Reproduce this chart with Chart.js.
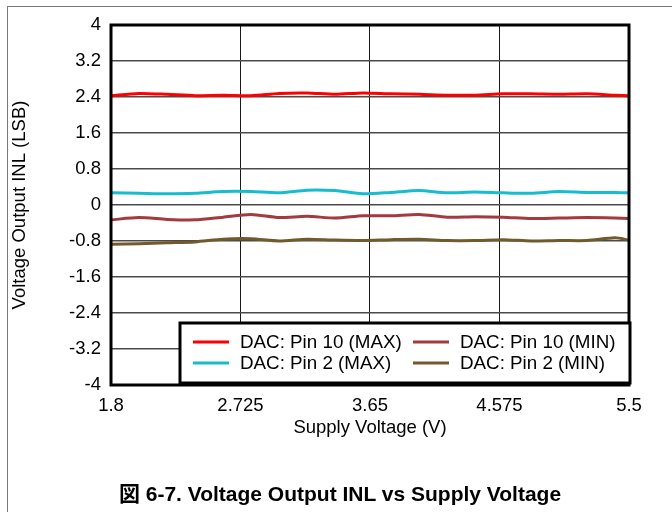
<!DOCTYPE html>
<html>
<head>
<meta charset="utf-8">
<script src="https://cdn.jsdelivr.net/npm/chart.js@4.4.0/dist/chart.umd.min.js"></script>
<style>
  html, body { margin: 0; padding: 0; background: #fff; }
  #wrap { position: relative; width: 672px; height: 512px; overflow: hidden; }
  #frameH { position: absolute; left: 8px; top: 6px; width: 664px; height: 0; border-top: 1.5px solid #7a7a7a; }
  #frameV { position: absolute; left: 7px; top: 6px; width: 0; height: 506px; border-left: 1.5px solid #7a7a7a; }
  #cv { position: absolute; left: 0; top: 0; }
  #caption { position: absolute; left: 8px; width: 664px; top: 482px; line-height: 24px; text-align: center;
    font-weight: bold; font-size: 21px; font-family: "Liberation Sans", Arial, "Noto Sans CJK JP", sans-serif; color: #000; }
</style>
</head>
<body>
<div id="wrap">
  <div id="frameH"></div>
  <div id="frameV"></div>
  <canvas id="cv" width="672" height="512"></canvas>
  <div id="caption">図 6-7. Voltage Output INL vs Supply Voltage</div>
</div>
<script>
const voltages = [1.8, 2.0, 2.2, 2.4, 2.6, 2.8, 3.0, 3.2, 3.4, 3.6, 3.8, 4.0, 4.2, 4.4, 4.6, 4.8, 5.0, 5.2, 5.4, 5.5];
const pin10Max = [2.43, 2.48, 2.46, 2.43, 2.44, 2.43, 2.48, 2.49, 2.46, 2.49, 2.47, 2.46, 2.44, 2.44, 2.47, 2.47, 2.46, 2.47, 2.44, 2.43];
const pin2Max  = [0.27, 0.26, 0.25, 0.26, 0.30, 0.30, 0.27, 0.33, 0.32, 0.25, 0.28, 0.32, 0.27, 0.29, 0.27, 0.26, 0.30, 0.28, 0.28, 0.27];
const pin10Min = [-0.33, -0.28, -0.32, -0.33, -0.27, -0.21, -0.28, -0.25, -0.29, -0.24, -0.24, -0.21, -0.27, -0.26, -0.27, -0.30, -0.29, -0.28, -0.29, -0.30];
const pin2Min  = [-0.87, -0.86, -0.84, -0.82, -0.76, -0.75, -0.80, -0.76, -0.78, -0.79, -0.77, -0.76, -0.79, -0.79, -0.77, -0.80, -0.79, -0.79, -0.73, -0.78];
const seriesLabels = ['DAC: Pin 10 (MAX)', 'DAC: Pin 10 (MIN)', 'DAC: Pin 2 (MAX)', 'DAC: Pin 2 (MIN)'];
const yTicks = [-4, -3.2, -2.4, -1.6, -0.8, 0, 0.8, 1.6, 2.4, 3.2, 4];
const yTickLabels = ['-4', '-3.2', '-2.4', '-1.6', '-0.8', '0', '0.8', '1.6', '2.4', '3.2', '4'];
const xTicks = [1.8, 2.725, 3.65, 4.575, 5.5];
const xTickLabels = ['1.8', '2.725', '3.65', '4.575', '5.5'];
const xTitle = 'Supply Voltage (V)';
const yTitle = 'Voltage Output INL (LSB)';

const FONT = '"Liberation Sans", Arial, sans-serif';
const FS = 18.5;

function pts(ys) { return voltages.map((x, i) => ({ x: x, y: ys[i] })); }

const datasets = [
  { label: seriesLabels[0], data: pts(pin10Max), borderColor: '#ff0000' },
  { label: seriesLabels[1], data: pts(pin10Min), borderColor: '#a33a3e' },
  { label: seriesLabels[2], data: pts(pin2Max),  borderColor: '#17bccf' },
  { label: seriesLabels[3], data: pts(pin2Min),  borderColor: '#735a2d' }
].map(d => Object.assign(d, { borderWidth: 3, pointRadius: 0, tension: 0.25, fill: false }));

const framePlugin = {
  id: 'frameAndLegend',
  afterDatasetsDraw(chart) {
    const ctx = chart.ctx, a = chart.chartArea;
    ctx.save();
    ctx.strokeStyle = '#000';
    ctx.lineWidth = 3;
    ctx.strokeRect(a.left, a.top, a.right - a.left, a.bottom - a.top);
    // legend box
    const bl = a.left + 69, bt = a.top + 298, br = a.right + 1, bb = a.bottom - 2;
    ctx.fillStyle = '#fff';
    ctx.fillRect(bl, bt, br - bl, bb - bt);
    ctx.lineWidth = 3;
    ctx.strokeRect(bl, bt, br - bl, bb - bt);
    ctx.font = '18.8px ' + FONT;
    ctx.textBaseline = 'middle';
    ctx.textAlign = 'left';
    const cols = [bl + 13, bl + 233];
    const rows = [bt + 19, bt + 40];
    const order = [0, 1, 2, 3];
    order.forEach((di, k) => {
      const ds = chart.data.datasets[di];
      const cx = cols[k % 2], cy = rows[Math.floor(k / 2)];
      ctx.strokeStyle = ds.borderColor;
      ctx.lineWidth = 3;
      ctx.beginPath();
      ctx.moveTo(cx, cy);
      ctx.lineTo(cx + 36, cy);
      ctx.stroke();
      ctx.fillStyle = '#000';
      ctx.fillText(ds.label, cx + 47, cy + 1);
    });
    ctx.restore();
  }
};

new Chart(document.getElementById('cv'), {
  type: 'line',
  data: { datasets: datasets },
  plugins: [framePlugin],
  options: {
    responsive: false,
    animation: false,
    events: [],
    layout: { padding: { left: 5, right: 43, top: 25, bottom: 67 } },
    plugins: { legend: { display: false }, tooltip: { enabled: false }, title: { display: false } },
    scales: {
      x: {
        type: 'linear', min: 1.8, max: 5.5,
        afterBuildTicks: s => { s.ticks = xTicks.map(v => ({ value: v })); },
        afterFit: s => { s.height = 60; },
        ticks: { callback: (v, i) => xTickLabels[i], color: '#000', padding: 10, maxRotation: 0, autoSkip: false,
                 font: { family: FONT, size: FS } },
        grid: { color: '#1a1a1a', lineWidth: 1, drawTicks: false },
        border: { display: false },
        title: { display: true, text: xTitle, color: '#000', font: { family: FONT, size: FS }, padding: { top: 0, bottom: 6 } }
      },
      y: {
        type: 'linear', min: -4, max: 4,
        afterBuildTicks: s => { s.ticks = yTicks.map(v => ({ value: v })); },
        afterFit: s => { s.width = 106; },
        ticks: { callback: (v, i) => yTickLabels[i], color: '#000', padding: 10, autoSkip: false,
                 font: { family: FONT, size: FS } },
        grid: { color: '#4a4a4a', lineWidth: 1.5, drawTicks: false },
        border: { display: false },
        title: { display: true, text: yTitle, color: '#000', font: { family: FONT, size: FS }, padding: { top: 4, bottom: 4 } }
      }
    }
  }
});
</script>
</body>
</html>
